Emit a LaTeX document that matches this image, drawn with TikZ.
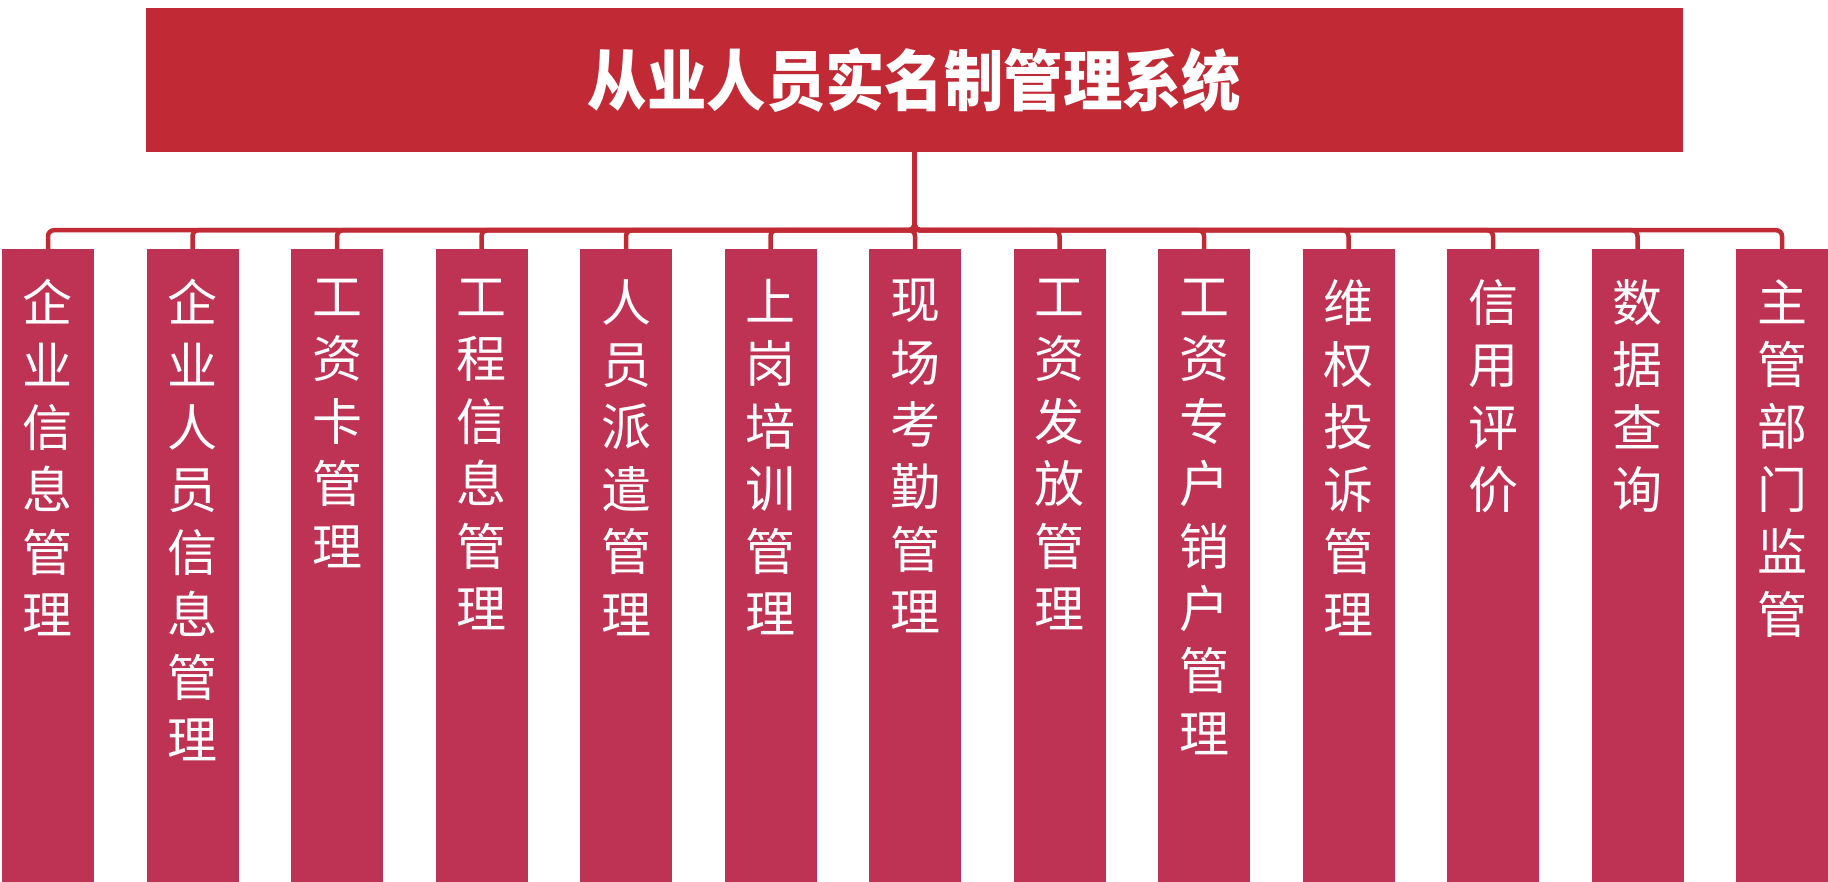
\documentclass[tikz,border=0pt]{standalone}
\usepackage{graphicx}
\usepackage{fontspec}
\newfontfamily\cjk{Noto Sans CJK SC}
\definecolor{titlered}{RGB}{193,41,52}
\definecolor{colred}{RGB}{190,50,83}
\begin{document}
\begin{tikzpicture}[x=1pt,y=-1pt,
  titlebox/.style={fill=titlered, draw=none, minimum width=1537pt, minimum height=144pt, inner sep=0pt, text=white, font=\cjk\bfseries\fontsize{66}{66}\selectfont},
  colbox/.style={fill=colred, draw=none, minimum width=92pt, minimum height=633pt, anchor=north, inner sep=0pt},
  coltext/.style={text=white, font=\cjk\fontsize{50}{62.4}\selectfont, align=center, anchor=north, inner sep=0pt},
  link/.style={draw=titlered, line width=4.5pt, rounded corners=6pt}]
\useasboundingbox (0,0) rectangle (1828,882);
\node[titlebox] (title) at (914.5,80) {\scalebox{0.9}[1]{从业人员实名制管理系统}};
\foreach \i/\t in {1/{企\\业\\信\\息\\管\\理},
                   2/{企\\业\\人\\员\\信\\息\\管\\理},
                   3/{工\\资\\卡\\管\\理},
                   4/{工\\程\\信\\息\\管\\理},
                   5/{人\\员\\派\\遣\\管\\理},
                   6/{上\\岗\\培\\训\\管\\理},
                   7/{现\\场\\考\\勤\\管\\理},
                   8/{工\\资\\发\\放\\管\\理},
                   9/{工\\资\\专\\户\\销\\户\\管\\理},
                   10/{维\\权\\投\\诉\\管\\理},
                   11/{信\\用\\评\\价},
                   12/{数\\据\\查\\询},
                   13/{主\\管\\部\\门\\监\\管}}{
  \node[colbox] (c\i) at ({48+144.5*(\i-1)},249) {};
  \node[coltext] (t\i) at ({48+144.5*(\i-1)},279) {\t};
  \draw[link] (title.south) -- ++(0,78) -| (c\i.north);
}
\end{tikzpicture}
\end{document}
